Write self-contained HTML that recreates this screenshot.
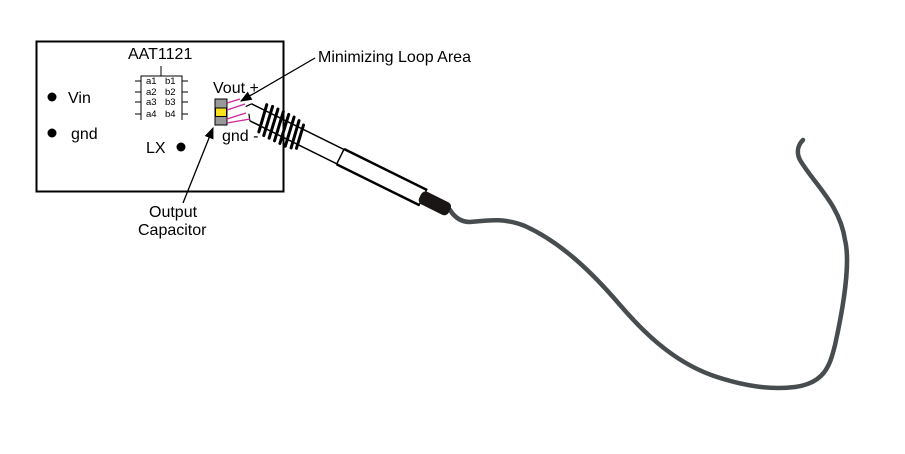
<!DOCTYPE html>
<html><head><style>
html,body{margin:0;padding:0;background:#fff;}
svg{display:block;font-family:"Liberation Sans",Arial,sans-serif;}
</style></head><body>
<svg width="905" height="454" viewBox="0 0 905 454" xmlns="http://www.w3.org/2000/svg">
<defs>
<marker id="ah" viewBox="0 0 10 10" refX="9" refY="5" markerWidth="9" markerHeight="9" orient="auto"><path d="M0,1 L10,5 L0,9 z" fill="#000"/></marker>
</defs>
<rect x="36.5" y="41.5" width="247" height="150" fill="none" stroke="#000" stroke-width="2"/>
<text x="128" y="59" font-size="16">AAT1121</text>
<line x1="161" y1="66" x2="161" y2="76" stroke="#000"/>
<path d="M141,120 L141,76 L182,76 L182,120" fill="none" stroke="#000"/>
<g stroke="#000">
<line x1="135" y1="81" x2="141" y2="81"/><line x1="182" y1="81" x2="188" y2="81"/>
<line x1="135" y1="92" x2="141" y2="92"/><line x1="182" y1="92" x2="188" y2="92"/>
<line x1="135" y1="102" x2="141" y2="102"/><line x1="182" y1="102" x2="188" y2="102"/>
<line x1="135" y1="114" x2="141" y2="114"/><line x1="182" y1="114" x2="188" y2="114"/>
</g>
<g font-size="9.5">
<text x="146" y="84">a1</text><text x="165" y="84">b1</text>
<text x="146" y="95">a2</text><text x="165" y="95">b2</text>
<text x="146" y="105">a3</text><text x="165" y="105">b3</text>
<text x="146" y="117">a4</text><text x="165" y="117">b4</text>
</g>
<circle cx="52" cy="97" r="4.5" fill="#000"/><text x="68" y="103" font-size="16">Vin</text>
<circle cx="52" cy="133" r="4.5" fill="#000"/><text x="71" y="139" font-size="16">gnd</text>
<text x="146" y="153" font-size="16">LX</text><circle cx="181" cy="147" r="4.5" fill="#000"/>
<text x="213" y="93" font-size="16">Vout +</text>
<text x="222" y="141" font-size="16">gnd -</text>
<rect x="215" y="99" width="12" height="26" fill="#999" stroke="#000"/>
<rect x="215.5" y="108" width="11" height="8.5" fill="#f7e21c" stroke="#000"/>
<!-- cable -->
<path d="M450,210 C455,218 462,222 470,222 C490,220 505,218 525,226 C560,242 590,270 620,305 C650,340 680,365 717,377 C745,386 770,390 795,387 C825,383 830,365 835,345 C845,300 850,260 845,240 C840,205 815,185 800,160 C795,150 800,143 803,140" fill="none" stroke="#474d4f" stroke-width="4.5" stroke-linecap="round"/>
<!-- probe -->
<g transform="translate(248,111) rotate(26.3)">
<path d="M0,-8 L195,-8 M6,8 L195,8" stroke="#000" stroke-width="1.5" fill="none"/>
<path d="M0,-8 L-4,-3 M6,8 L2,2" stroke="#000" stroke-width="1.2"/>
<line x1="103" y1="-9" x2="103" y2="9" stroke="#000" stroke-width="1.5"/>
<path d="M103,-9 L195,-9 L195,9 L103,9" fill="none" stroke="#000" stroke-width="1.5"/>
<rect x="192" y="-7" width="33" height="14" rx="5" fill="#1a1616"/>
<g stroke="#000" stroke-width="3" fill="none" stroke-linecap="round">
<path d="M14,-14 L19,14"/><path d="M20,-15 L25,15"/><path d="M26,-15 L31,15"/><path d="M32,-15 L37,15"/><path d="M38,-15 L43,15"/><path d="M44,-15 L49,15"/><path d="M50,-14 L55,14"/><path d="M56,-12 L60,12"/>
</g>
</g>
<g stroke="#d0259c" stroke-width="1.3" fill="none">
<path d="M227,103 L240,99"/><path d="M227,110 L245,104"/><path d="M227,119 L246,113"/><path d="M227,123 L250,119"/>
</g>
<line x1="315" y1="58" x2="241" y2="101" stroke="#000" stroke-width="1.3" marker-end="url(#ah)"/>
<text x="318" y="62" font-size="16">Minimizing Loop Area</text>
<line x1="183" y1="203" x2="213" y2="128" stroke="#000" stroke-width="1.3" marker-end="url(#ah)"/>
<text x="149" y="217" font-size="16">Output</text>
<text x="138" y="235" font-size="16">Capacitor</text>
</svg>
</body></html>
